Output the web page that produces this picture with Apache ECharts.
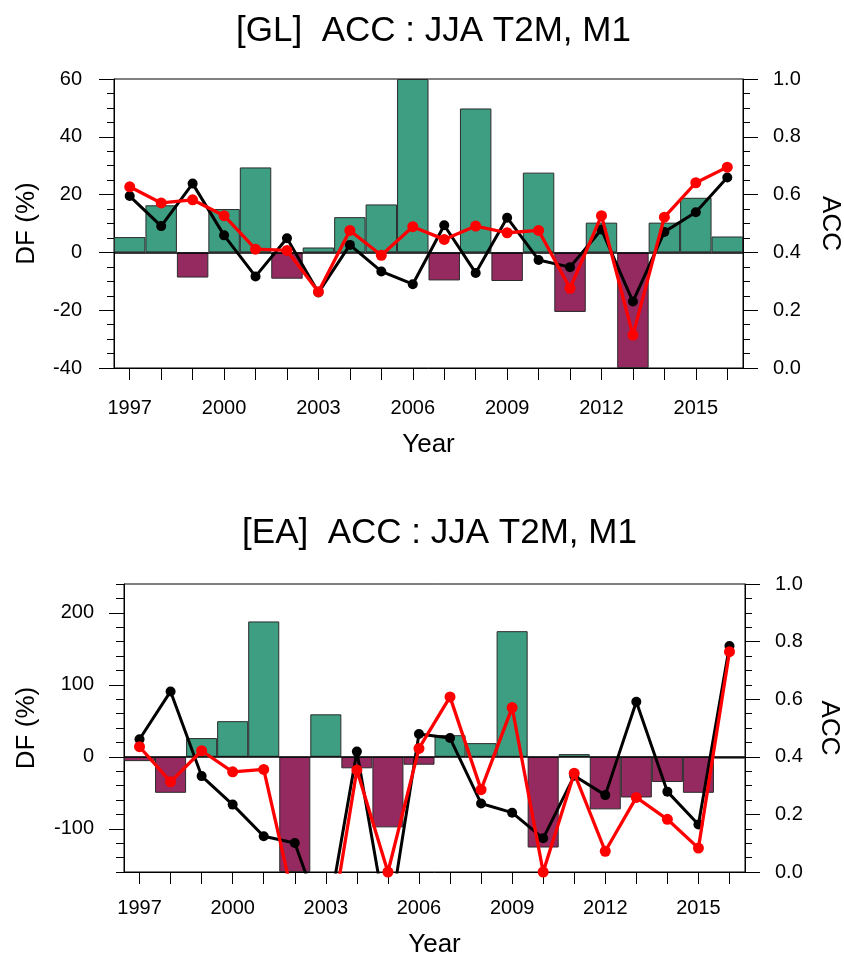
<!DOCTYPE html>
<html><head><meta charset="utf-8">
<script src="https://cdn.jsdelivr.net/npm/echarts@6/dist/echarts.min.js"></script>
<style>html,body{margin:0;padding:0;background:#fff}#c{width:844px;height:962px}</style>
</head><body><div id="c"></div>
<script>
// ---------- data ----------
const years = ['1997','1998','1999','2000','2001','2002','2003','2004','2005','2006',
               '2007','2008','2009','2010','2011','2012','2013','2014','2015','2016'];

const glTitle = '[GL]  ACC : JJA T2M, M1';
const glDF = [5.3, 16.3, -8.7, 15.0, 29.4, -9.1, 1.7, 12.2, 16.6, 60,
              -9.7, 49.8, -9.9, 27.6, -20.6, 10.3, -40, 10.3, 18.9, 5.5];
const glAccBlack = [0.595, 0.491, 0.638, 0.459, 0.317, 0.449, 0.261, 0.426, 0.334, 0.290,
                    0.494, 0.329, 0.520, 0.374, 0.349, 0.479, 0.230, 0.471, 0.539, 0.659];
const glAccRed = [0.627, 0.571, 0.582, 0.527, 0.411, 0.407, 0.264, 0.476, 0.390, 0.489,
                  0.445, 0.491, 0.468, 0.476, 0.276, 0.527, 0.114, 0.522, 0.641, 0.695];

const eaTitle = '[EA]  ACC : JJA T2M, M1';
const eaDF = [-6, -50, 26, 49.5, 188, -160, 59, -16, -98, -11,
              30, 19, 174.5, -126, 3.7, -73, -56.5, -35, -50, -2.5];
const eaAccBlack = [0.461, 0.627, 0.333, 0.234, 0.124, 0.101, -0.2, 0.418, -0.2, 0.479,
                    0.465, 0.238, 0.206, 0.117, 0.334, 0.267, 0.591, 0.279, 0.165, 0.785];
const eaAccRed = [0.435, 0.313, 0.421, 0.348, 0.356, -0.117, -0.304, 0.354, 0.0, 0.429,
                  0.608, 0.286, 0.571, 0.0, 0.343, 0.072, 0.259, 0.183, 0.083, 0.765];

// axis tick settings
const glDFRange = [-40, 60], glDFStep = 20;
const eaDFRange = [-160, 240], eaDFMinorStep = 20, eaDFMajor = [-100, 0, 100, 200];
const accRange = [0, 1], accStep = 0.2;

// ---------- style ----------
const FONT = '"Liberation Sans", Arial, Helvetica, sans-serif';
const GREEN = '#3d9e82', PURPLE = '#952a60';
const txt = (s) => ({color: '#000', fontSize: s, fontFamily: FONT});
const blackLine = {color: '#000', width: 1};

function xAx(gi, margin, gap) {
  return {
    type: 'category', gridIndex: gi, data: years, boundaryGap: true,
    axisLine: {show: true, onZero: false, lineStyle: blackLine},
    axisTick: {show: true, alignWithLabel: true, interval: 0, length: 12, lineStyle: blackLine},
    axisLabel: Object.assign({interval: 2, margin: margin}, txt(20)),
    splitLine: {show: false},
    name: 'Year', nameLocation: 'middle', nameGap: gap, nameTextStyle: txt(26)
  };
}
function accAx(gi, gap) {
  return {
    type: 'value', gridIndex: gi, position: 'right', min: accRange[0], max: accRange[1], interval: accStep,
    axisLine: {show: true, onZero: false, lineStyle: blackLine},
    axisTick: {show: true, length: 15, lineStyle: blackLine},
    minorTick: {show: true, splitNumber: 4, length: 7, lineStyle: blackLine},
    splitLine: {show: false}, minorSplitLine: {show: false},
    axisLabel: Object.assign({margin: 30, formatter: v => v.toFixed(1)}, txt(20)),
    name: 'ACC', nameLocation: 'middle', nameRotate: -90, nameGap: gap, nameTextStyle: txt(26)
  };
}

const eaCats = [];
for (let v = eaDFRange[0]; v <= eaDFRange[1]; v += eaDFMinorStep) eaCats.push(String(v));

function barSeries(xi, yi, data) {
  return {
    type: 'bar', xAxisIndex: xi, yAxisIndex: yi, data: data, barCategoryGap: '0%',
    itemStyle: {color: p => (p.value >= 0 ? GREEN : PURPLE), borderColor: '#2b2b2b', borderWidth: 1},
    z: 2,
    markLine: {silent: true, symbol: 'none', label: {show: false},
      lineStyle: {color: '#000', width: 1.5, type: 'solid'}, data: [{yAxis: 0}]}
  };
}
function lineSeries(xi, yi, data, color, w, s, z) {
  return {
    type: 'line', xAxisIndex: xi, yAxisIndex: yi, data: data, clip: true,
    symbol: 'circle', symbolSize: s, showAllSymbol: true,
    itemStyle: {color: color}, lineStyle: {color: color, width: w}, z: z
  };
}

const titleStyle = Object.assign({fontWeight: 'normal'}, txt(35));
const option = {
  animation: false,
  backgroundColor: '#fff',
  title: [
    {text: glTitle, left: 428.5, top: 9, textAlign: 'center', textStyle: titleStyle},
    {text: eaTitle, left: 434.5, top: 511, textAlign: 'center', textStyle: titleStyle}
  ],
  grid: [
    {left: 114, right: 101, top: 79, height: 289, containLabel: false, outerBoundsMode: 'none',
     show: true, borderColor: '#000', borderWidth: 1, backgroundColor: 'transparent'},
    {left: 124, right: 99, top: 584, height: 288, containLabel: false, outerBoundsMode: 'none',
     show: true, borderColor: '#000', borderWidth: 1, backgroundColor: 'transparent'}
  ],
  xAxis: [xAx(0, 30, 64), xAx(1, 26, 60)],
  yAxis: [
    {
      type: 'value', gridIndex: 0, position: 'left', min: glDFRange[0], max: glDFRange[1], interval: glDFStep,
      axisLine: {show: true, onZero: false, lineStyle: blackLine},
      axisTick: {show: true, length: 15, lineStyle: blackLine},
      minorTick: {show: true, splitNumber: 4, length: 7, lineStyle: blackLine},
      splitLine: {show: false}, minorSplitLine: {show: false},
      axisLabel: Object.assign({margin: 32}, txt(20)),
      name: 'DF (%)', nameLocation: 'middle', nameRotate: 90, nameGap: 74, nameTextStyle: txt(26)
    },
    accAx(0, 74),
    {
      type: 'value', gridIndex: 1, position: 'left', min: eaDFRange[0], max: eaDFRange[1], interval: eaDFMinorStep,
      axisLine: {show: true, onZero: false, lineStyle: blackLine},
      axisTick: {show: true, length: 8, lineStyle: blackLine},
      splitLine: {show: false},
      axisLabel: Object.assign({margin: 30, formatter: v => (eaDFMajor.some(m => Math.abs(m - v) < 1e-6) ? String(Math.round(v)) : '')}, txt(20)),
      name: 'DF (%)', nameLocation: 'middle', nameRotate: 90, nameGap: 84, nameTextStyle: txt(26)
    },
    accAx(1, 71),
    {
      type: 'category', gridIndex: 1, position: 'left', data: eaCats, boundaryGap: false,
      axisLine: {show: false},
      axisTick: {show: true, length: 15, interval: (i, v) => eaDFMajor.indexOf(+v) >= 0, lineStyle: blackLine},
      axisLabel: {show: false}, splitLine: {show: false}
    }
  ],
  series: [
    barSeries(0, 0, glDF),
    lineSeries(0, 1, glAccBlack, '#000', 3, 10, 5),
    lineSeries(0, 1, glAccRed, '#ff0000', 3.3, 11, 6),
    barSeries(1, 2, eaDF),
    lineSeries(1, 3, eaAccBlack, '#000', 3, 10, 5),
    lineSeries(1, 3, eaAccRed, '#ff0000', 3.3, 11, 6)
  ]
};
const chart = echarts.init(document.getElementById('c'), null, {renderer: 'canvas'});
chart.setOption(option);
</script>
</body></html>
